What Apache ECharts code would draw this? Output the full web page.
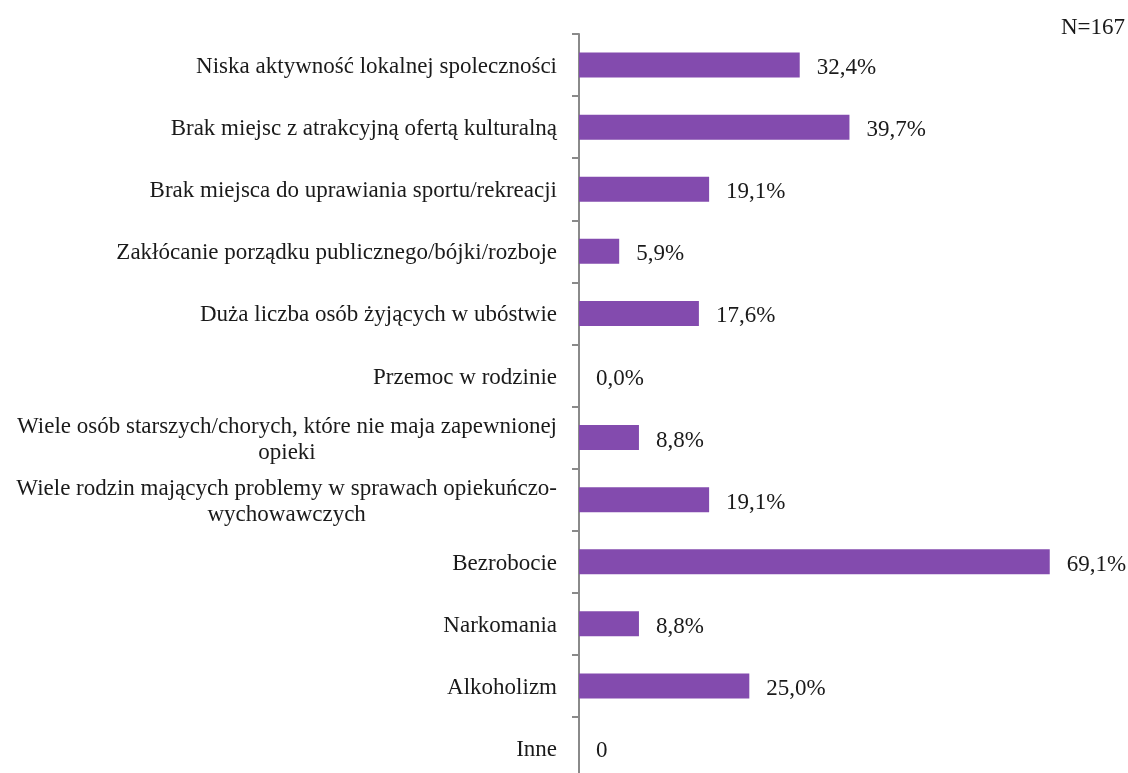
<!DOCTYPE html>
<html>
<head>
<meta charset="utf-8">
<script src="https://cdn.jsdelivr.net/npm/echarts@6/dist/echarts.min.js"></script>
<style>
html,body{margin:0;padding:0;background:#fff;overflow:hidden;width:1128px;height:773px;}
#chart{width:1128px;height:779px;}
</style>
</head>
<body>
<div id="chart"></div>
<script>
var categories = [
  'Niska aktywność lokalnej spoleczności',
  'Brak miejsc z atrakcyjną ofertą kulturalną',
  'Brak miejsca do uprawiania sportu/rekreacji',
  'Zakłócanie porządku publicznego/bójki/rozboje',
  'Duża liczba osób żyjących w ubóstwie',
  'Przemoc w rodzinie',
  'Wiele osób starszych/chorych, które nie maja zapewnionej\nopieki',
  'Wiele rodzin mających problemy w sprawach opiekuńczo-\nwychowawczych',
  'Bezrobocie',
  'Narkomania',
  'Alkoholizm',
  'Inne'
];
var values = [32.4, 39.7, 19.1, 5.9, 17.6, 0.0, 8.8, 19.1, 69.1, 8.8, 25.0, 0];
var valueLabels = ['32,4%', '39,7%', '19,1%', '5,9%', '17,6%', '0,0%', '8,8%', '19,1%', '69,1%', '8,8%', '25,0%', '0'];
var sampleNote = 'N=167';

var FONT = '"Liberation Serif", "Times New Roman", serif';
var chart = echarts.init(document.getElementById('chart'), null, {renderer: 'canvas'});
chart.setOption({
  animation: false,
  backgroundColor: '#ffffff',
  grid: {left: 579, right: 4, top: 34, bottom: 0, containLabel: false},
  xAxis: {
    type: 'value', min: 0, max: 80, show: false
  },
  yAxis: {
    type: 'category',
    inverse: true,
    data: categories,
    axisLine: {show: true, lineStyle: {color: '#8a8a8a', width: 2}},
    axisTick: {show: true, length: 7, lineStyle: {color: '#8a8a8a', width: 2}},
    axisLabel: {
      margin: 22,
      color: '#1a1a1a',
      fontFamily: FONT,
      fontSize: 23,
      lineHeight: 26,
      padding: [4, 0, 0, 0],
      formatter: function (v) {
        return v.split('\n').map(function (s) { return '{c|' + s + '}'; }).join('\n');
      },
      rich: {
        c: {align: 'center', fontFamily: FONT, fontSize: 23, lineHeight: 26, color: '#1a1a1a'}
      }
    },
    splitLine: {show: false}
  },
  series: [{
    type: 'bar',
    data: values,
    barWidth: 25,
    itemStyle: {color: '#834BAE'},
    label: {
      show: true,
      position: 'right',
      distance: 17,
      offset: [0, 3],
      color: '#1a1a1a',
      fontFamily: FONT,
      fontSize: 23,
      formatter: function (p) { return valueLabels[p.dataIndex]; }
    }
  }],
  graphic: [{
    type: 'text',
    right: 3,
    top: 16,
    style: {text: sampleNote, font: '23px ' + FONT, fill: '#1a1a1a'}
  }]
});
</script>
</body>
</html>
